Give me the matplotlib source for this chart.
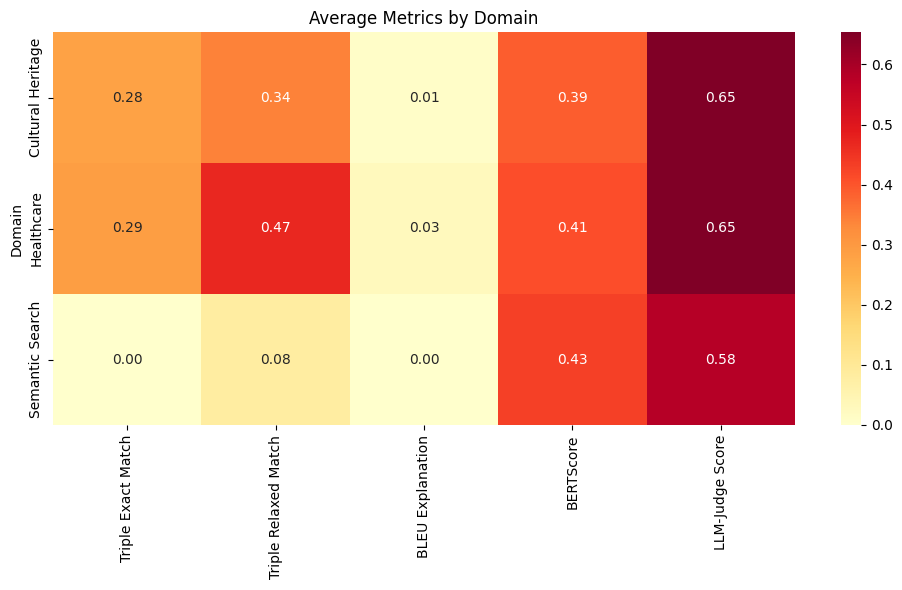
import numpy as np
import pandas as pd
import matplotlib
matplotlib.use("Agg")
import matplotlib.pyplot as plt
import seaborn as sns

domains = ["Cultural Heritage", "Healthcare", "Semantic Search"]
metrics = ["Triple Exact Match", "Triple Relaxed Match", "BLEU Explanation",
           "BERTScore", "LLM-Judge Score"]

triple_exact = [0.28, 0.29, 0.00]
triple_relaxed = [0.34, 0.47, 0.08]
bleu_expl = [0.01, 0.03, 0.00]
bertscore = [0.39, 0.41, 0.43]
llm_judge = [0.652, 0.654, 0.58]

df = pd.DataFrame(
    {
        "Triple Exact Match": triple_exact,
        "Triple Relaxed Match": triple_relaxed,
        "BLEU Explanation": bleu_expl,
        "BERTScore": bertscore,
        "LLM-Judge Score": llm_judge,
    },
    index=pd.Index(domains, name="Domain"),
)

W, H = 902, 590
fig = plt.figure(figsize=(W / 100, H / 100), dpi=100)
ax = fig.add_axes([53 / W, (H - 425) / H, 742 / W, 393 / H])
cax = fig.add_axes([841 / W, (H - 425) / H, 20 / W, 393 / H])
sns.heatmap(df, annot=True, fmt=".2f", cmap="YlOrRd", ax=ax, cbar_ax=cax)
ax.set_title("Average Metrics by Domain")
ax.tick_params(axis="x", labelrotation=90)
fig.savefig("out.png", dpi=100)
plt.close(fig)
